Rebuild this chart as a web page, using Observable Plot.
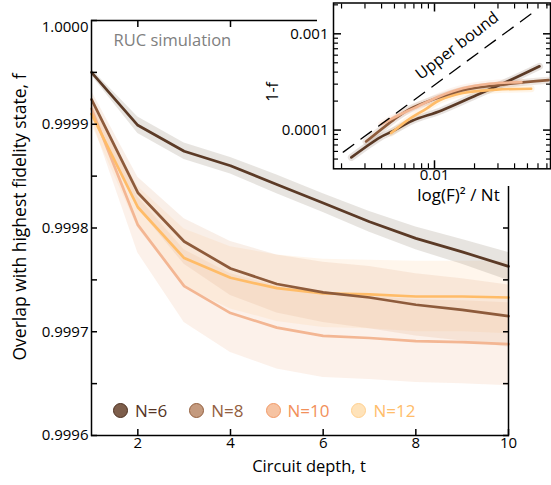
<!DOCTYPE html>
<html>
<head>
<meta charset="utf-8">
<script src="https://cdn.jsdelivr.net/npm/d3@7"></script>
<script src="https://cdn.jsdelivr.net/npm/@observablehq/plot@0.6"></script>
<style>
  html, body { margin: 0; padding: 0; background: #fff; }
  #wrap { position: relative; width: 551px; height: 485px; font-family: "Open Sans", sans-serif; }
  #wrap > * { position: absolute; }
  #legend { display: flex; align-items: center; font-size: 17px; }
  .item { display: flex; align-items: center; margin-right: 22px; }
  .dot { width: 15px; height: 15px; border-radius: 50%; box-sizing: border-box; border: 1.6px solid; margin-right: 7px; }
</style>
</head>
<body>
<div id="wrap"></div>
<script>
// ---------------- data (main panel) ----------------
const tVals = [1, 2, 3, 4, 5, 6, 7, 8, 9, 10];
const f6  = [0.99995, 0.999899, 0.999874, 0.99986, 0.999842, 0.999824, 0.999806, 0.99979, 0.999777, 0.999763];
const f8  = [0.999924, 0.999834, 0.999787, 0.999761, 0.999746, 0.999738, 0.999733, 0.999726, 0.999721, 0.999715];
const f10 = [0.999915, 0.999803, 0.999744, 0.999718, 0.999704, 0.999696, 0.999694, 0.999691, 0.99969, 0.999688];
const f12 = [0.99991, 0.99982, 0.999771, 0.999752, 0.999742, 0.999737, 0.999736, 0.999734, 0.999734, 0.999733];
const s6  = [0.000003, 0.000008, 0.000008, 0.000008, 0.000009, 0.000009, 0.00001, 0.000011, 0.000012, 0.0000135];
const s8  = [0.000008, 0.000015, 0.000022, 0.000026, 0.000028, 0.000029, 0.00003, 0.00003, 0.00003, 0.00003];
const s10 = [0.00001, 0.000027, 0.000035, 0.000038, 0.00004, 0.00004, 0.00004, 0.00004, 0.00004, 0.00004];
const s12 = [0.00001, 0.00002, 0.000028, 0.00003, 0.000032, 0.000033, 0.000033, 0.000034, 0.000034, 0.000035];
const yMajor = [0.9996, 0.9997, 0.9998, 0.9999];
const yTop = [1.0];
const yMinor = [0.9996, 0.99965, 0.9997, 0.99975, 0.9998, 0.99985, 0.9999, 0.99995, 1.0];
const xMajor = [2, 4, 6, 8, 10];
const nLabels = ["N=6", "N=8", "N=10", "N=12"];

// ---------------- data (inset) ----------------
const in6x  = [0.00237, 0.0039, 0.0049, 0.0068, 0.0113, 0.0206, 0.0366, 0.0616];
const in6y  = [5.2e-5, 8.4e-5, 9.8e-5, 1.25e-4, 1.6e-4, 2.3e-4, 3.27e-4, 4.6e-4];
const in8x  = [0.00306, 0.0049, 0.0065, 0.0095, 0.0163, 0.035, 0.072];
const in8y  = [7.6e-5, 1.27e-4, 1.65e-4, 2.05e-4, 2.6e-4, 3.0e-4, 3.3e-4];
const in10x = [0.0040, 0.0055, 0.0071, 0.0109, 0.0163, 0.0259, 0.045];
const in10y = [1.15e-4, 1.45e-4, 1.7e-4, 2.25e-4, 2.72e-4, 3.03e-4, 3.15e-4];
const in12x = [0.00472, 0.0063, 0.0087, 0.0109, 0.0163, 0.0291, 0.0533];
const in12y = [9.3e-5, 1.27e-4, 1.67e-4, 2.04e-4, 2.43e-4, 2.63e-4, 2.69e-4];
const boundX = [0.00206, 0.0595];
const boundY = [5.9e-5, 1.8e-3];
const boundLabel = {x: 0.0148, y: 7.5e-4, text: "Upper bound"};
const inXMajor = [0.01];
const inXMinor = [0.002, 0.003, 0.004, 0.005, 0.006, 0.007, 0.008, 0.009, 0.02, 0.03, 0.04, 0.05, 0.06, 0.07];
const inYMajor = [0.0001, 0.001];
const inYMinor = [5e-5, 6e-5, 7e-5, 8e-5, 9e-5, 2e-4, 3e-4, 4e-4, 5e-4, 6e-4, 7e-4, 8e-4, 9e-4, 2e-3];

// ---------------- styles ----------------
const style = {
  6:  {line: "#5b3a26", band: "#a89a8c", bandOp: 0.27, dotFill: "#7d5e4b", dotStroke: "#4d3020", text: "#553525"},
  8:  {line: "#8e5b3b", band: "#e0a880", bandOp: 0.18, dotFill: "#c49a7e", dotStroke: "#94603f", text: "#94603f"},
  10: {line: "#f3b693", band: "#f0b48c", bandOp: 0.18, dotFill: "#f6c3a2", dotStroke: "#f29a68", text: "#f2905a"},
  12: {line: "#ffbc68", band: "#ffc88a", bandOp: 0.16, dotFill: "#ffe3ba", dotStroke: "#ffd08e", text: "#ffbd6a"}
};
const mainSeries = {6: [f6, s6], 8: [f8, s8], 10: [f10, s10], 12: [f12, s12]};
const insetSeries = {6: [in6x, in6y], 8: [in8x, in8y], 10: [in10x, in10y], 12: [in12x, in12y]};
const Ns = [6, 8, 10, 12];

const rows = Ns.flatMap(N => tVals.map((t, i) => ({
  N, t, f: mainSeries[N][0][i],
  lo: mainSeries[N][0][i] - mainSeries[N][1][i],
  hi: mainSeries[N][0][i] + mainSeries[N][1][i]
})));
const drawOrder = [10, 12, 8, 6];

const font = {fontFamily: "Open Sans, sans-serif", fontSize: "15px", background: "transparent", overflow: "visible"};

// ---------------- main plot ----------------
const main = Plot.plot({
  width: 551, height: 485,
  marginLeft: 91, marginRight: 43, marginTop: 20, marginBottom: 50,
  style: font,
  x: {domain: [1, 10]},
  y: {domain: [0.9996, 1.0]},
  marks: [
    ...drawOrder.map(N => Plot.areaY(rows.filter(d => d.N === N), {
      x: "t", y1: "lo", y2: "hi", fill: style[N].band, fillOpacity: style[N].bandOp
    })),
    ...drawOrder.map(N => Plot.lineY(rows.filter(d => d.N === N), {
      x: "t", y: "f", stroke: style[N].line, strokeWidth: 2.7
    })),
    Plot.frame({stroke: "black", strokeWidth: 1.5}),
    Plot.axisY({anchor: "left", ticks: yMajor, tickSize: 0, tickPadding: 3, tickFormat: d => d.toFixed(4), label: null, fontSize: 15}),
    Plot.axisY({anchor: "left", ticks: yTop, tickSize: 0, tickPadding: 3, dy: 6.5, tickFormat: d => d.toFixed(4), label: null, fontSize: 15}),
    Plot.axisY({anchor: "left", ticks: yMinor, tickSize: -6, tickFormat: () => "", label: null, strokeWidth: 1.5}),
    Plot.axisY({anchor: "right", ticks: yMinor, tickSize: -6, tickFormat: () => "", label: null, strokeWidth: 1.5}),
    Plot.axisX({anchor: "bottom", ticks: xMajor, tickSize: 0, tickPadding: 2, tickFormat: d => String(d), label: null, fontSize: 15}),
    Plot.axisX({anchor: "bottom", ticks: xMajor, tickSize: -6, tickFormat: () => "", label: null, strokeWidth: 1.5}),
    Plot.axisX({anchor: "top", ticks: xMajor, tickSize: -6, tickFormat: () => "", label: null, strokeWidth: 1.5}),
    Plot.text(["RUC simulation"], {frameAnchor: "top-left", dx: 22, dy: 20, textAnchor: "start", lineAnchor: "middle", fill: "#808080", fontSize: 16.5}),
    Plot.text(["Overlap with highest fidelity state, f"], {frameAnchor: "left", dx: -71, dy: -11, rotate: -90, textAnchor: "middle", lineAnchor: "middle", fontSize: 17.5, fill: "black"}),
    Plot.text(["Circuit depth, t"], {frameAnchor: "bottom", dx: 9, dy: 31, textAnchor: "middle", lineAnchor: "middle", fontSize: 16.5, fill: "black"})
  ]
});

// ---------------- inset ----------------
const insetRows = Ns.flatMap(N => insetSeries[N][0].map((x, i) => ({N, x, y: insetSeries[N][1][i]})));
const insetOrder = [6, 12, 8, 10];
const inset = Plot.plot({
  width: 301, height: 210,
  marginLeft: 83, marginRight: 1, marginTop: 2.5, marginBottom: 41.7,
  style: font,
  x: {type: "log", domain: [0.00174, 0.0745]},
  y: {type: "log", domain: [3.96e-5, 0.00209]},
  marks: [
    ...insetOrder.map(N => Plot.line(insetRows.filter(d => d.N === N), {
      x: "x", y: "y", stroke: style[N].line, strokeWidth: 7, strokeOpacity: 0.15, curve: "catmull-rom"
    })),
    ...insetOrder.map(N => Plot.line(insetRows.filter(d => d.N === N), {
      x: "x", y: "y", stroke: style[N].line, strokeWidth: 2.6, curve: "catmull-rom"
    })),
    Plot.line(boundX.map((x, i) => ({x, y: boundY[i]})), {x: "x", y: "y", stroke: "black", strokeWidth: 1.3, strokeDasharray: "13,9"}),
    Plot.text([boundLabel], {x: "x", y: "y", text: "text", rotate: -37.5, textAnchor: "middle", fontSize: 16, fill: "black", lineAnchor: "middle"}),
    Plot.frame({stroke: "black", strokeWidth: 1.5}),
    Plot.axisY({anchor: "left", ticks: inYMajor, tickSize: 0, tickPadding: 5, tickFormat: d => d === 0.001 ? "0.001" : "0.0001", label: null, fontSize: 15}),
    Plot.axisY({anchor: "left", ticks: inYMajor, tickSize: -8, tickFormat: () => "", label: null, strokeWidth: 1.5}),
    Plot.axisY({anchor: "left", ticks: inYMinor, tickSize: -5, tickFormat: () => "", label: null, strokeWidth: 1.2}),
    Plot.axisY({anchor: "right", ticks: inYMajor, tickSize: -8, tickFormat: () => "", label: null, strokeWidth: 1.5}),
    Plot.axisY({anchor: "right", ticks: inYMinor, tickSize: -5, tickFormat: () => "", label: null, strokeWidth: 1.2}),
    Plot.axisX({anchor: "bottom", ticks: inXMajor, tickSize: 0, tickPadding: 1, tickFormat: () => "0.01", label: null, fontSize: 15}),
    Plot.axisX({anchor: "bottom", ticks: inXMajor, tickSize: -8, tickFormat: () => "", label: null, strokeWidth: 1.5}),
    Plot.axisX({anchor: "bottom", ticks: inXMinor, tickSize: -5, tickFormat: () => "", label: null, strokeWidth: 1.2}),
    Plot.axisX({anchor: "top", ticks: inXMajor, tickSize: -8, tickFormat: () => "", label: null, strokeWidth: 1.5}),
    Plot.axisX({anchor: "top", ticks: inXMinor, tickSize: -5, tickFormat: () => "", label: null, strokeWidth: 1.2}),
    Plot.text(["1-f"], {frameAnchor: "left", dx: -61, dy: 6, rotate: -90, textAnchor: "middle", lineAnchor: "middle", fontSize: 16, fill: "black"}),
    Plot.text(["log(F)² / Nt"], {frameAnchor: "bottom", dx: 16.5, dy: 27, textAnchor: "middle", lineAnchor: "middle", fontSize: 17, fill: "black"})
  ]
});

// ---------------- assemble ----------------
const wrap = document.getElementById("wrap");
main.style.left = "0px"; main.style.top = "0px";
wrap.appendChild(main);
const bg = document.createElement("div");
Object.assign(bg.style, {left: "317px", top: "0px", width: "234px", height: "186px", background: "#fff"});
wrap.appendChild(bg);
inset.style.left = "250px"; inset.style.top = "0px";
wrap.appendChild(inset);

const legend = document.createElement("div");
legend.id = "legend";
Object.assign(legend.style, {left: "113px", top: "398px", height: "24px"});
Ns.forEach((N, i) => {
  const item = document.createElement("div");
  item.className = "item";
  const dot = document.createElement("span");
  dot.className = "dot";
  dot.style.background = style[N].dotFill;
  dot.style.borderColor = style[N].dotStroke;
  const label = document.createElement("span");
  label.textContent = nLabels[i];
  label.style.color = style[N].text;
  item.appendChild(dot); item.appendChild(label);
  legend.appendChild(item);
});
wrap.appendChild(legend);
</script>
</body>
</html>
